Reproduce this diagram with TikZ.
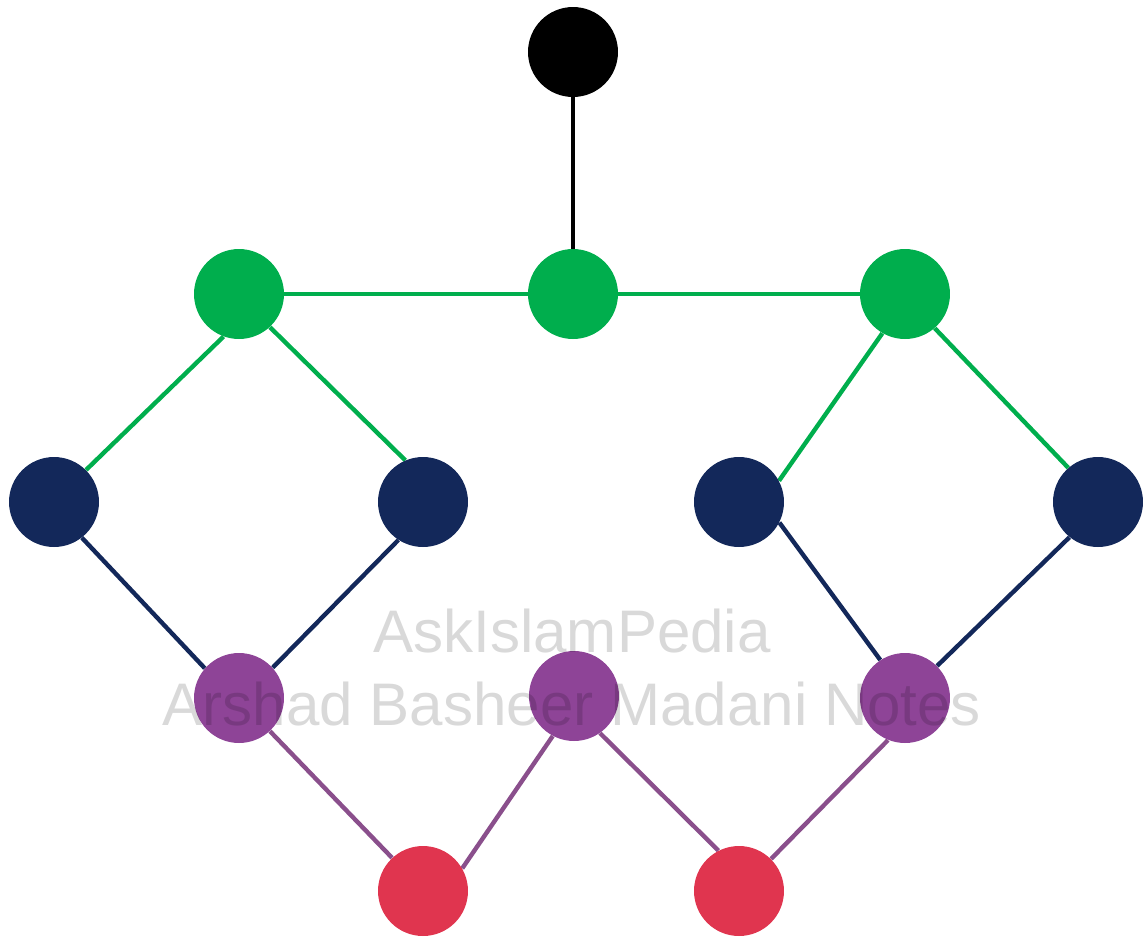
\documentclass[tikz,border=0pt]{standalone}
\usepackage{fontspec}
\setmainfont{Liberation Sans}
\usepackage{xcolor}
\usepackage{tikz}
\usetikzlibrary{positioning,backgrounds}

\definecolor{lvgreen}{HTML}{00AE4D}
\definecolor{lvnavy}{HTML}{13285A}
\definecolor{lvpurple}{HTML}{8E4497}
\definecolor{lvplum}{HTML}{8A4F8C}
\definecolor{lvred}{HTML}{E0354F}

\begin{document}
\begin{tikzpicture}[
  x=0.02cm, y=-0.02cm,
  dot/.style={circle,fill=#1,minimum size=1.8cm,inner sep=0pt},
  link/.style={draw=#1,line width=2.5pt},
  wmark/.style={text=black,text opacity=0.15,anchor=base,font=\fontsize{34.2}{41}\selectfont},
]
\useasboundingbox (0,0) rectangle (1144,938);
\node[dot=black]    (top) at (573,52)  {};
\node[dot=lvgreen]  (g1)  at (239,294) {};
\node[dot=lvgreen]  (g2)  at (573,294) {};
\node[dot=lvgreen]  (g3)  at (905,294) {};
\node[dot=lvnavy]   (n1)  at (54,502)  {};
\node[dot=lvnavy]   (n2)  at (423,502) {};
\node[dot=lvnavy]   (n3)  at (739,502) {};
\node[dot=lvnavy]   (n4)  at (1098,502) {};
\node[dot=lvpurple] (p1)  at (239,698) {};
\node[dot=lvpurple] (p2)  at (574,696) {};
\node[dot=lvpurple] (p3)  at (905,698) {};
\node[dot=lvred]    (r1)  at (423,891) {};
\node[dot=lvred]    (r2)  at (739,891) {};
% links sit under the dots
\begin{scope}[on background layer]
\draw[link=black] (top.center) -- (g2.center);
\draw[link=lvgreen] (g1.center) -- (g3.center);
\draw[link=lvgreen] (g1.250) -- (n1.45);
\draw[link=lvgreen] (g1.313) -- (n2.113);
\draw[link=lvgreen] (g3.240) -- (n3.28);
\draw[link=lvgreen] (g3.311) -- (n4.131);
\draw[link=lvnavy] (n1.308) -- (p1.139);
\draw[link=lvnavy] (n2.237) -- (p1.42);
\draw[link=lvnavy] (n3.333) -- (p3.123);
\draw[link=lvnavy] (n4.231) -- (p3.45);
\draw[link=lvplum] (p1.313) -- (r1.133);
\draw[link=lvplum] (p2.242) -- (r1.30);
\draw[link=lvplum] (p2.305) -- (r2.117);
\draw[link=lvplum] (p3.248) -- (r2.45);
\end{scope}
% watermark on top
\node[wmark] (wm1) at (572,652) {AskIslamPedia};
\node[wmark] (wm2) at (572,725) {Arshad Basheer Madani Notes};
\end{tikzpicture}
\end{document}
